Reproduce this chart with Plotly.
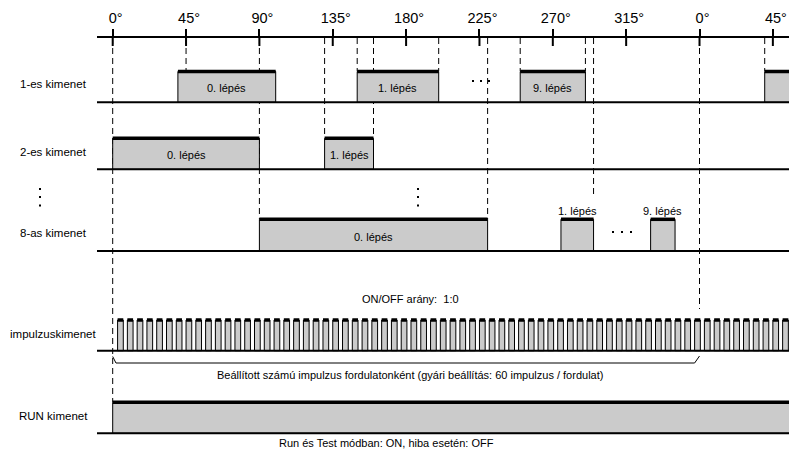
import plotly.graph_objects as go

# ---------------- data ----------------
tick_deg = [0, 45, 90, 135, 180, 225, 270, 315, 360, 405]
tick_text = ["0°", "45°", "90°", "135°", "180°", "225°", "270°", "315°", "0°", "45°"]

row_names = ["1-es kimenet", "2-es kimenet", "8-as kimenet", "impulzuskimenet", "RUN kimenet"]

out1_start = [40, 150, 250, 400]
out1_end = [100, 200, 290, 440]
out1_text = ["0. lépés", "1. lépés", "9. lépés", ""]

out2_start = [0, 130]
out2_end = [90, 160]
out2_text = ["0. lépés", "1. lépés"]

out8_start = [90, 275, 330]
out8_end = [230, 295, 345]
out8_text = ["0. lépés", "1. lépés", "9. lépés"]

pulses_per_rev = 60
pulse_on_deg = 3.5
pulse_offset_deg = 3.0

run_start = [0]
run_end = [440]

guide_deg = [0, 45, 90, 130, 150, 160, 200, 230, 250, 290, 295, 360, 400]
guide_to = ["run", "out1", "out8", "out2", "out1", "out2", "out1", "out8",
            "out1", "out1", "out8_label", "pulse_label", "out1"]

ratio_text = "ON/OFF arány:&nbsp; 1:0"
pulse_note = "Beállított számú impulzus fordulatonként (gyári beállítás: 60 impulzus / fordulat)"
run_note = "Run és Test módban: ON, hiba esetén: OFF"
bracket_deg = [0, 2, 357, 360]

# ---------------- layout geometry (pixels on the y axis) ----------------
W, H = 789, 450
LEFT = 97
X0, X1 = -9.63, 414.9
AXIS_Y = 38
rows = {
    "out1": (71.5, 102.3),
    "out2": (138.3, 169.3),
    "out8": (219.3, 251.0),
    "pulse": (320.0, 350.7),
    "run": (402.3, 433.3),
}
row_label_y = [84.3, 152, 233, 334, 416]
guide_bottom = {"run": 402, "out1": 71, "out2": 138, "out8": 219,
                "out8_label": 196, "pulse_label": 309}

FONT = "Liberation Sans, Arial, Helvetica, sans-serif"
FILL = "#cbcbcb"


def px_to_deg(px):
    return X0 + (px - LEFT) / (W - LEFT) * (X1 - X0)


def px_to_paper(px):
    return (px - LEFT) / (W - LEFT)


fig = go.Figure()

# pulses
pulse_start, pulse_end = [], []
k = 0
step = 360 / pulses_per_rev
while pulse_offset_deg + k * step < X1 + 5:
    s = pulse_offset_deg + k * step
    pulse_start.append(s)
    pulse_end.append(s + pulse_on_deg)
    k += 1

series = [
    ("out1", out1_start, out1_end),
    ("out2", out2_start, out2_end),
    ("out8", out8_start, out8_end),
    ("pulse", pulse_start, pulse_end),
    ("run", run_start, run_end),
]

shapes = []
# dashed guide lines (below boxes)
for d, to in zip(guide_deg, guide_to):
    shapes.append(dict(type="line", xref="x", yref="y", x0=d, x1=d,
                       y0=AXIS_Y, y1=guide_bottom[to], layer="below",
                       line=dict(color="black", width=1, dash="6px,4px")))
# baselines
for key, (top, base) in rows.items():
    shapes.append(dict(type="line", xref="paper", yref="y", x0=0, x1=1,
                       y0=base, y1=base, layer="above",
                       line=dict(color="black", width=2)))
# inner part of axis ticks
for d in tick_deg:
    shapes.append(dict(type="line", xref="x", yref="y", x0=d, x1=d,
                       y0=AXIS_Y, y1=AXIS_Y + 8, layer="above",
                       line=dict(color="black", width=2)))
# vertical dots left of the plot (paper-referenced)
for yy in [189, 197, 205.5]:
    shapes.append(dict(type="rect", xref="paper", yref="y",
                       x0=px_to_paper(39), x1=px_to_paper(41),
                       y0=yy - 1, y1=yy + 1, layer="above",
                       fillcolor="black", line=dict(width=0)))

for key, st, en in series:
    top, base = rows[key]
    fig.add_trace(go.Bar(
        x=[(a + b) / 2 for a, b in zip(st, en)],
        width=[b - a for a, b in zip(st, en)],
        base=[base] * len(st),
        y=[top - base] * len(st),
        marker=dict(color=FILL, line=dict(color="black", width=1)),
        hoverinfo="skip", showlegend=False,
    ))
    xs, ys = [], []
    for a, b in zip(st, en):
        xs += [a, b, None]
        ys += [top, top, None]
    fig.add_trace(go.Scatter(x=xs, y=ys, mode="lines",
                             line=dict(color="black", width=3.5),
                             hoverinfo="skip", showlegend=False))

# bracket
fig.add_trace(go.Scatter(x=bracket_deg, y=[356.5, 363, 363, 356], mode="lines",
                         line=dict(color="black", width=1),
                         hoverinfo="skip", showlegend=False))

# dots: vertical ellipsis in the plot, horizontal ellipses in rows
dot_px = [418, 418, 418, 473, 481, 489, 613, 622, 631]
dot_y = [189, 197, 205.5, 81, 81, 81, 232, 232, 232]
fig.add_trace(go.Scatter(x=[px_to_deg(p) for p in dot_px], y=dot_y, mode="markers",
                         marker=dict(color="black", size=2, symbol="square",
                                     line=dict(width=0)),
                         hoverinfo="skip", showlegend=False))

ann = []
for name, y in zip(row_names, row_label_y):
    ann.append(dict(xref="paper", yref="y", x=px_to_paper(53), y=y, text=name,
                    showarrow=False, xanchor="center", yanchor="middle",
                    font=dict(size=11.5, family=FONT, color="black")))


def box_labels(st, en, txt, key, inside=True, above_y=None):
    top, base = rows[key]
    for a, b, t in zip(st, en, txt):
        if not t:
            continue
        y = (top + base) / 2 + 1.5 if inside else above_y
        ann.append(dict(x=(a + b) / 2, y=y, text=t, showarrow=False,
                        xanchor="center", yanchor="middle",
                        font=dict(size=11, family=FONT, color="black")))


box_labels(out1_start, out1_end, out1_text, "out1")
box_labels(out2_start, out2_end, out2_text, "out2")
box_labels(out8_start[:1], out8_end[:1], out8_text[:1], "out8")
box_labels(out8_start[1:], out8_end[1:], out8_text[1:], "out8", inside=False, above_y=210.5)

ann.append(dict(x=px_to_deg(410), y=299, text=ratio_text, showarrow=False,
                font=dict(size=11, family=FONT, color="black")))
ann.append(dict(x=px_to_deg(410), y=375, text=pulse_note, showarrow=False,
                font=dict(size=11, family=FONT, color="black")))
ann.append(dict(x=px_to_deg(386), y=443, text=run_note, showarrow=False,
                font=dict(size=11, family=FONT, color="black")))

fig.update_layout(
    width=W, height=H,
    margin=dict(l=LEFT, r=0, t=AXIS_Y, b=0, autoexpand=False),
    paper_bgcolor="white", plot_bgcolor="white",
    barmode="overlay",
    shapes=shapes, annotations=ann,
    showlegend=False,
    xaxis=dict(range=[X0, X1], side="top", tickmode="array",
               tickvals=tick_deg, ticktext=tick_text, automargin=False,
               ticks="outside", ticklen=7, tickwidth=2, tickcolor="black",
               showline=True, linewidth=2, linecolor="black",
               showgrid=False, zeroline=False, ticklabelshift=3,
               tickfont=dict(size=14.5, family=FONT, color="black"),
               fixedrange=True),
    yaxis=dict(range=[H, AXIS_Y], visible=False, showgrid=False,
               zeroline=False, fixedrange=True, automargin=False),
)

fig.write_html("out.html", config={"displayModeBar": False},
               post_script="document.body.style.margin='0';document.body.style.overflow='hidden';")
